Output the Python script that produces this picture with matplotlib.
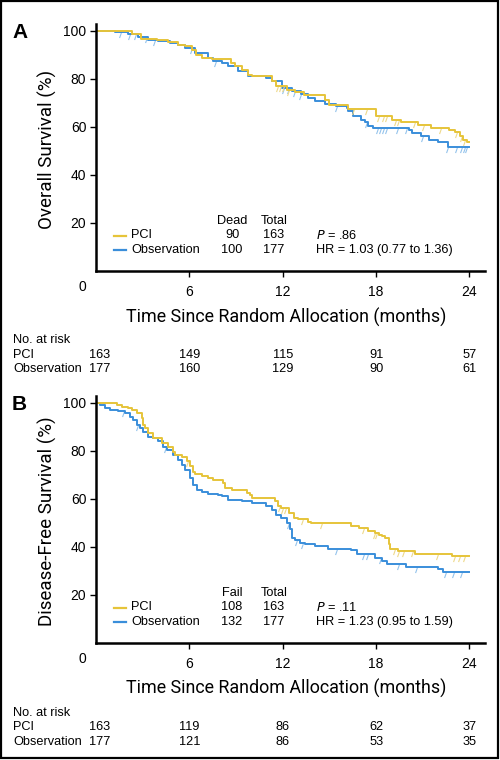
import numpy as np
import matplotlib
matplotlib.use("Agg")
import matplotlib.pyplot as plt
from matplotlib import font_manager
from matplotlib.path import Path
from matplotlib.patches import Rectangle

# ---------------- data ----------------
# Panel A: overall survival (step times in months, survival %)
a_pci_t = [0, 1.0, 2.3, 2.9, 3.9, 4.65, 5.3, 5.7, 6.15, 6.4, 6.8, 7.44, 8.7, 8.94, 9.4, 9.8, 10.0,
           11.3, 11.6, 12.3, 12.8, 13.35, 14.7, 15.0, 16.2, 18.0, 19.0, 19.6, 20.7, 21.5, 22.7,
           23.1, 23.4, 23.6, 23.85, 24.0]
a_pci_s = [100, 99.6, 98.6, 96.5, 96.0, 95.4, 94.1, 93.4, 92.0, 90.0, 88.6, 88.0, 86.5, 85.1, 83.7,
           81.7, 81.0, 79.2, 76.8, 75.4, 74.3, 73.3, 71.3, 69.2, 67.4, 64.6, 62.9, 61.8, 60.8, 59.4,
           58.5, 57.6, 56.2, 54.6, 53.5, 53.5]
a_obs_t = [0, 1.22, 2.08, 2.72, 3.37, 4.0, 4.76, 5.3, 5.72, 6.37, 7.22, 7.55, 8.08, 8.51, 9.15, 9.8,
           10.9, 11.3, 11.94, 12.6, 13.2, 13.6, 14.1, 14.7, 15.4, 16.1, 16.2, 16.5, 17.0, 17.3, 17.5,
           17.8, 20.1, 20.3, 20.9, 21.4, 22.0, 22.6, 24.0]
a_obs_s = [100, 99.4, 98.6, 97.2, 96.2, 95.6, 94.9, 93.9, 92.8, 90.7, 88.6, 87.5, 86.5, 85.1, 83.0,
           81.0, 80.3, 78.9, 76.2, 75.0, 73.7, 72.0, 70.5, 69.6, 68.8, 67.8, 66.4, 64.3, 62.9, 61.8,
           60.4, 59.4, 58.5, 57.5, 56.0, 54.3, 53.8, 51.5, 51.5]
a_pci_cens = [11.7, 11.9, 12.1, 12.4, 16.6, 17.4, 18.2, 18.5, 18.7, 19.3, 19.5, 20.5, 21.1, 22.2,
              23.2, 23.5, 23.7]
a_obs_cens = [1.6, 2.2, 2.6, 3.3, 3.8, 6.2, 7.7, 12.1, 12.4, 12.8, 13.2, 15.5, 17.4, 18.1, 18.3,
              18.5, 18.7, 19.4, 20.0, 21.0, 22.6, 23.2, 23.5, 23.7, 23.85]

# Panel B: disease-free survival
b_pci_t = [0, 1.33, 1.65, 2.08, 2.3, 2.62, 2.94, 3.04, 3.15, 3.37, 3.69, 4.22, 4.65, 4.97, 5.08, 5.5,
           5.83, 6.04, 6.26, 6.37, 6.8, 7.22, 7.55, 8.19, 8.3, 8.72, 9.69, 9.9, 10.0, 11.5, 11.7, 11.9,
           12.4, 12.7, 13.0, 13.6, 13.8, 16.4, 16.9, 17.5, 17.9, 18.2, 18.4, 18.6, 18.8, 18.9, 19.4,
           20.5, 22.9, 24.0]
b_pci_s = [100, 99.0, 98.3, 97.6, 96.9, 95.5, 93.5, 90.7, 89.3, 87.2, 85.1, 83.1, 81.3, 79.6, 78.0,
           77.5, 75.5, 73.4, 71.3, 70.3, 69.6, 68.6, 67.9, 66.5, 64.5, 63.8, 62.4, 61.7, 60.3, 58.9,
           56.9, 56.2, 54.1, 52.0, 51.4, 50.2, 49.7, 48.6, 47.9, 46.5, 45.8, 45.1, 44.4, 43.8, 41.0,
           38.9, 38.2, 36.9, 36.1, 36.1]
b_obs_t = [0, 0.26, 0.58, 0.9, 1.44, 1.86, 2.19, 2.4, 2.62, 2.83, 3.04, 3.36, 3.69, 4.0, 4.33, 4.54,
           4.97, 5.3, 5.5, 5.72, 6.04, 6.26, 6.47, 6.8, 7.22, 7.87, 8.08, 8.51, 9.37, 10.0, 10.9, 11.3,
           11.6, 11.9, 12.3, 12.45, 12.6, 12.8, 13.1, 13.4, 14.08, 14.9, 16.4, 16.8, 17.9, 18.4, 18.7,
           19.9, 22.0, 22.3, 24.0]
b_obs_s = [100, 99.0, 97.8, 96.9, 96.5, 95.5, 94.1, 92.8, 90.7, 89.3, 87.9, 85.8, 85.1, 83.8, 81.7,
           80.3, 78.3, 76.2, 74.1, 72.0, 68.6, 65.8, 63.8, 62.8, 62.0, 61.7, 61.0, 59.6, 58.9, 58.3,
           56.9, 55.5, 53.4, 52.0, 50.0, 47.5, 43.8, 42.8, 41.7, 41.0, 40.3, 39.2, 38.6, 36.9, 35.5,
           34.1, 32.7, 31.8, 30.6, 29.5, 29.5]
b_pci_cens = [5.9, 11.8, 12.0, 12.2, 13.3, 14.5, 17.2, 17.9, 18.05, 19.2, 19.5, 19.8, 20.4, 22.0,
              23.1, 23.4, 23.7]
b_obs_cens = [1.8, 2.7, 4.5, 12.4, 12.9, 13.3, 15.5, 17.2, 17.5, 18.3, 19.5, 20.6, 22.5, 23.0, 23.5]

groups = ["PCI", "Observation"]
a_events = [90, 100]
b_events = [108, 132]
totals = [163, 177]
a_stats = ["= .86", "HR = 1.03 (0.77 to 1.36)"]
b_stats = ["= .11", "HR = 1.23 (0.95 to 1.59)"]
risk_times = [0, 6, 12, 18, 24]
a_risk_pci = [163, 149, 115, 91, 57]
a_risk_obs = [177, 160, 129, 90, 61]
b_risk_pci = [163, 119, 86, 62, 37]
b_risk_obs = [177, 121, 86, 53, 35]
yticks = [20, 40, 60, 80, 100]
xticks = [6, 12, 18, 24]

# ---------------- style ----------------
W, H = 500, 760
YEL, BLU = "#E6C43A", "#3A8EDA"
YEL_C, BLU_C = "#EED98A", "#94C3EC"


def pick(fams):
    for f in fams:
        try:
            font_manager.findfont(f, fallback_to_default=False)
            return f
        except Exception:
            pass
    return "DejaVu Sans"


NARROW = pick(["Liberation Sans Narrow", "Roboto", "Liberation Sans"])
SANS = pick(["Liberation Sans", "Arial", "DejaVu Sans"])
plt.rcParams["font.family"] = [SANS, "DejaVu Sans"]
plt.rcParams["mathtext.fontset"] = "custom"

fig = plt.figure(figsize=(W / 100, H / 100), dpi=100)


def fx(x):
    return x / W


def fy(y):
    return 1 - y / H


cens_path = Path([(0, 0), (-0.35, -1.0)])


def surv_at(t_arr, s_arr, t):
    idx = np.searchsorted(np.asarray(t_arr), t, side="right") - 1
    return np.asarray(s_arr)[idx]


def panel(top, bottom, letter, ylabel, pci, obs, header, events, stats,
          risk_pci, risk_obs, leg_y, xl_y, tick_y, risk_y):
    ax = fig.add_axes([fx(96), fy(bottom), fx(485 - 96), (bottom - top) / H])
    ymax = (bottom - top) / 2.405
    ax.set_xlim(0, 25)
    ax.set_ylim(0, ymax)
    for (t, s, cens, col, ccol) in [(obs[0], obs[1], obs[2], BLU, BLU_C),
                                    (pci[0], pci[1], pci[2], YEL, YEL_C)]:
        cs = surv_at(t, s, np.asarray(cens))
        ax.plot(cens, cs, linestyle="none", marker=cens_path, markersize=8,
                markeredgecolor=ccol, markerfacecolor="none", markeredgewidth=0.8)
        ax.step(t, s, where="post", color=col, lw=1.4)
    for sp in ["top", "right"]:
        ax.spines[sp].set_visible(False)
    for sp in ["left", "bottom"]:
        ax.spines[sp].set_linewidth(1.8)
    ax.set_yticks(yticks)
    ax.set_yticklabels([str(v) for v in yticks])
    ax.set_xticks(xticks)
    ax.set_xticklabels([str(v) for v in xticks])
    ax.tick_params(axis="y", length=4, width=1.0, pad=3, labelsize=10)
    ax.tick_params(axis="x", length=4, width=1.0, pad=6, labelsize=10)
    ax.text(fx(82), fy(tick_y), "0", transform=fig.transFigure, ha="center",
            va="center", fontsize=10)
    fig.text(fx(47), fy((top + bottom) / 2 + 2), ylabel, family=[NARROW, "DejaVu Sans"],
             fontsize=13.5, rotation=90, ha="center", va="center")
    fig.text(fx(12), fy(top - 1), letter, fontsize=15, fontweight="bold",
             ha="left", va="top")
    fig.text(fx(286), fy(xl_y), "Time Since Random Allocation (months)",
             family=[NARROW, "DejaVu Sans"], fontsize=12.9, ha="center", va="center")
    # legend block
    fs = 9.2
    fig.text(fx(232), fy(leg_y), header, fontsize=fs, ha="center", va="center")
    fig.text(fx(274), fy(leg_y), "Total", fontsize=fs, ha="center", va="center")
    for i, (g, col) in enumerate(zip(groups, [YEL, BLU])):
        yy = leg_y + 14.5 * (i + 1)
        fig.add_artist(plt.Line2D([fx(114), fx(126)], [fy(yy), fy(yy)], color=col, lw=1.6))
        fig.text(fx(131), fy(yy), g, fontsize=fs, ha="left", va="center")
        fig.text(fx(232), fy(yy), str(events[i]), fontsize=fs, ha="center", va="center")
        fig.text(fx(274), fy(yy), str(totals[i]), fontsize=fs, ha="center", va="center")
        if i == 0:
            fig.text(fx(316), fy(yy), "$\\mathit{P}$ " + stats[0], fontsize=fs,
                     ha="left", va="center")
        else:
            fig.text(fx(316), fy(yy), stats[1], fontsize=fs, ha="left", va="center")
    # number at risk
    fig.text(fx(13), fy(risk_y), "No. at risk", fontsize=fs, ha="left", va="center")
    for j, (g, vals) in enumerate(zip(groups, [risk_pci, risk_obs])):
        yy = risk_y + 14.5 * (j + 1)
        fig.text(fx(13), fy(yy), g, fontsize=fs, ha="left", va="center")
        for tt, v in zip(risk_times, vals):
            xx = 96 + tt * 389 / 25 + (4 if tt == 0 else 0)
            fig.text(fx(xx), fy(yy), str(v), fontsize=fs, ha="center", va="center")
    return ax


panel(24, 271, "A", "Overall Survival (%)",
      (a_pci_t, a_pci_s, a_pci_cens), (a_obs_t, a_obs_s, a_obs_cens),
      "Dead", a_events, a_stats, a_risk_pci, a_risk_obs,
      leg_y=221, xl_y=317, tick_y=287, risk_y=340)
panel(396, 643, "B", "Disease-Free Survival (%)",
      (b_pci_t, b_pci_s, b_pci_cens), (b_obs_t, b_obs_s, b_obs_cens),
      "Fail", b_events, b_stats, b_risk_pci, b_risk_obs,
      leg_y=593, xl_y=688, tick_y=659, risk_y=713)

fig.add_artist(Rectangle((fx(1), fy(758)), fx(497), (757) / H, transform=fig.transFigure,
                         fill=False, edgecolor="black", lw=1.6))
fig.savefig("out.png", dpi=100)
